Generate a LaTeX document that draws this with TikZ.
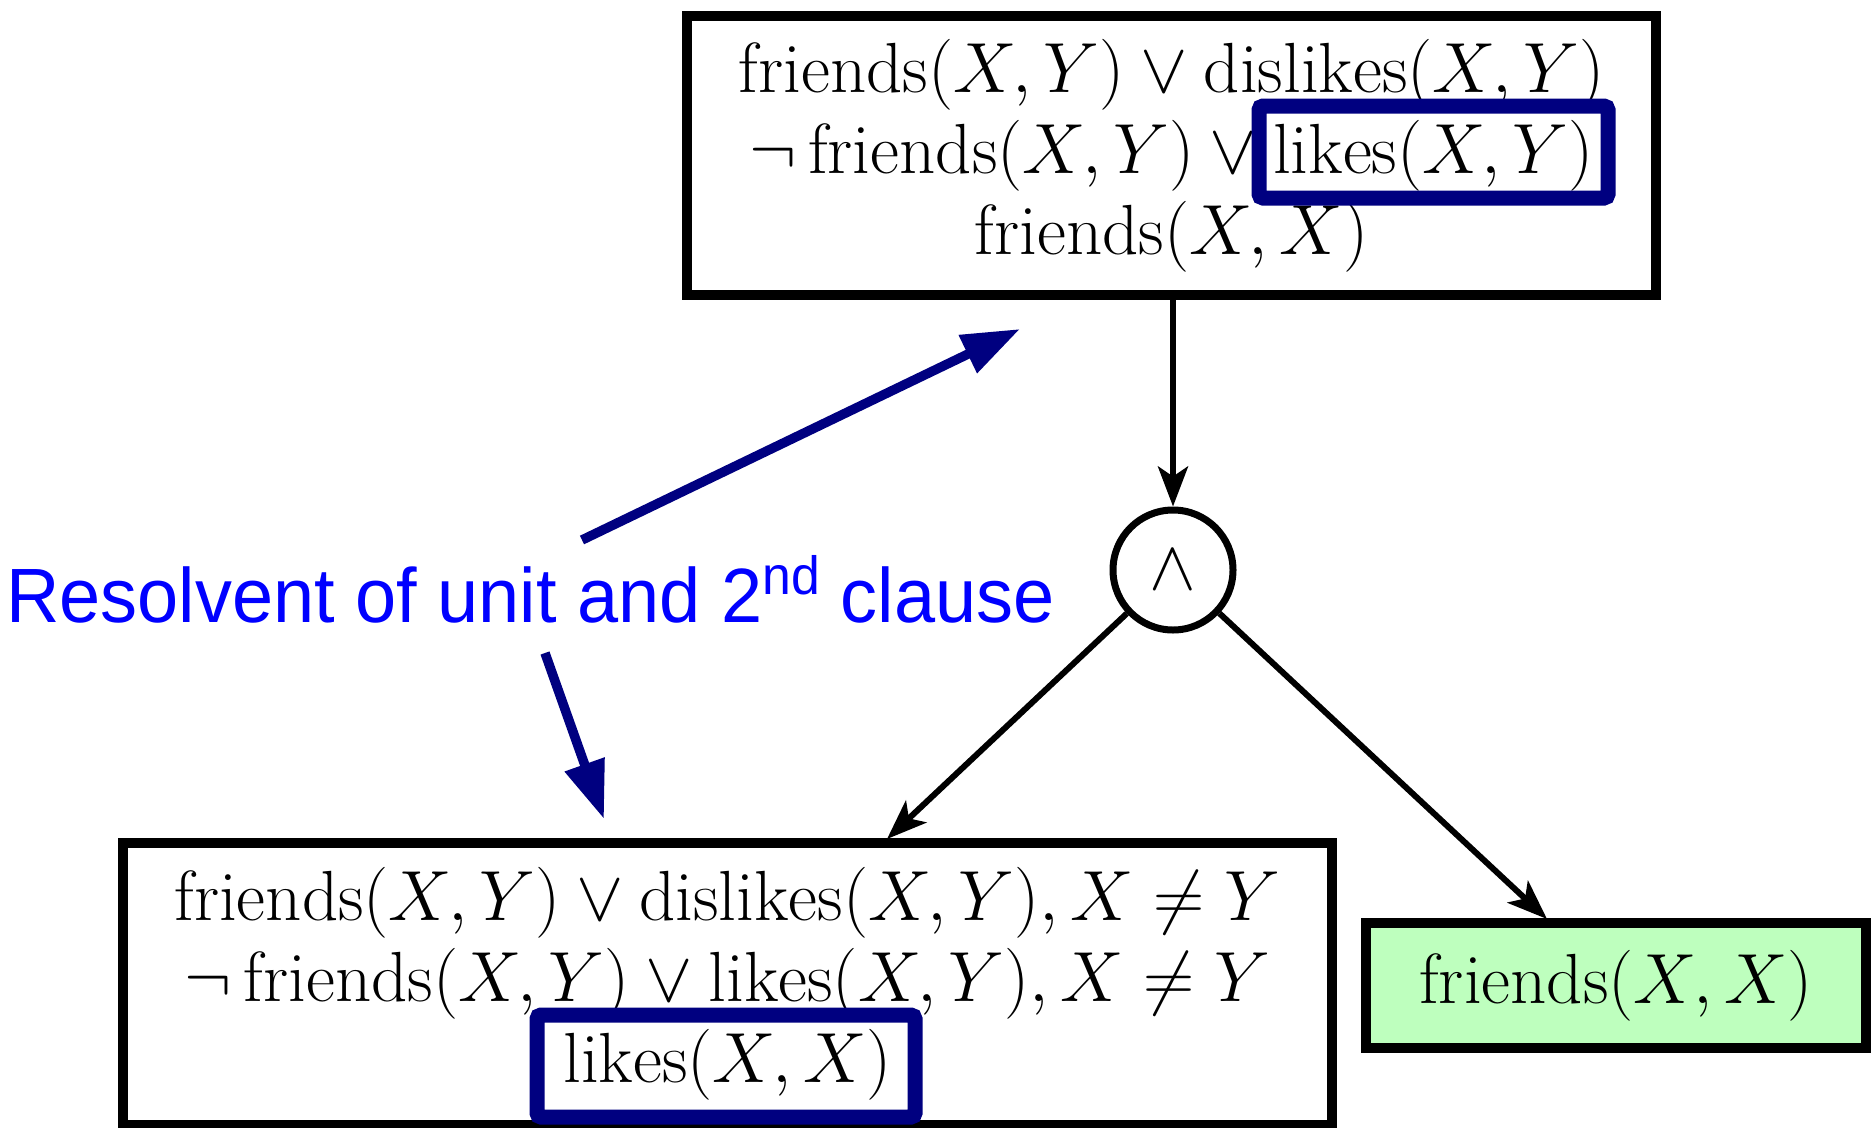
\RequirePackage{fix-cm}
\documentclass[tikz,border=0pt]{standalone}
\usepackage{amsmath}
\usepackage{graphicx}
\usepackage{fontspec}
\newfontfamily\labfont{Liberation Sans}
\usetikzlibrary{arrows.meta}
\definecolor{navyb}{RGB}{0,0,128}
\definecolor{labblue}{RGB}{0,0,255}
\definecolor{greenfill}{RGB}{190,255,190}
\begin{document}
\begin{tikzpicture}[x=1pt,y=-1pt,
  clausebox/.style={draw=black, line width=9.5pt, rectangle, align=center, inner sep=0pt, font=\fontsize{71}{81}\selectfont},
  hilite/.style={draw=navyb, line width=15pt, rectangle, rounded corners=4pt, inner sep=0pt},
  andnode/.style={draw=black, circle, line width=7pt, minimum size=120pt, inner sep=0pt, font=\fontsize{70}{81}\selectfont},
  flow/.style={-{Stealth[length=40pt,width=30pt,inset=10pt]}, line width=6pt},
  pointer/.style={-{Triangle[length=58pt,width=40pt]}, line width=9.5pt, draw=navyb}
]
\useasboundingbox (0,0) rectangle (1873,1127);

\node[clausebox, minimum width=969pt, minimum height=279pt] (top) at (1171.5,155.5)
  {$\mathrm{friends}(X,Y)\vee\mathrm{dislikes}(X,Y)$\\
   $\neg\,\mathrm{friends}(X,Y)\vee\mathrm{likes}(X,Y)$\\
   $\mathrm{friends}(X,X)$};

\node[andnode] (and) at (1173,570) {$\wedge$};

\node[clausebox, minimum width=1209pt, minimum height=282pt] (bot) at (727.5,984)
  {$\mathrm{friends}(X,Y)\vee\mathrm{dislikes}(X,Y),X\neq Y$\\
   $\neg\,\mathrm{friends}(X,Y)\vee\mathrm{likes}(X,Y),X\neq Y$\\
   $\mathrm{likes}(X,X)$};

\node[clausebox, fill=greenfill, minimum width=500pt, minimum height=125pt] (res) at (1616,985.5)
  {$\mathrm{friends}(X,X)$};

\node[hilite, minimum width=349pt, minimum height=92pt] (h1) at (1433.5,152) {};
\node[hilite, minimum width=378pt, minimum height=102pt] (h2) at (726,1066) {};

\node[anchor=base west, text=labblue, font=\labfont\fontsize{77}{84}\selectfont, inner sep=0pt] (lab) at (6,622)
  {\scalebox{0.96}[1]{Resolvent of unit and 2\textsuperscript{nd} clause}};

\coordinate (p1s) at (582,540);
\coordinate (p1e) at (1020,329);
\coordinate (p2s) at (545,653);
\coordinate (p2e) at (604,819);
\coordinate (botin) at (887,839);
\coordinate (resin) at (1547,919);

\draw[flow] (and |- top.south) -- (and.north);
\draw[flow] (and) -- (botin);
\draw[flow] (and) -- (resin);
\draw[pointer] (p1s) -- (p1e);
\draw[pointer] (p2s) -- (p2e);
\end{tikzpicture}
\end{document}
